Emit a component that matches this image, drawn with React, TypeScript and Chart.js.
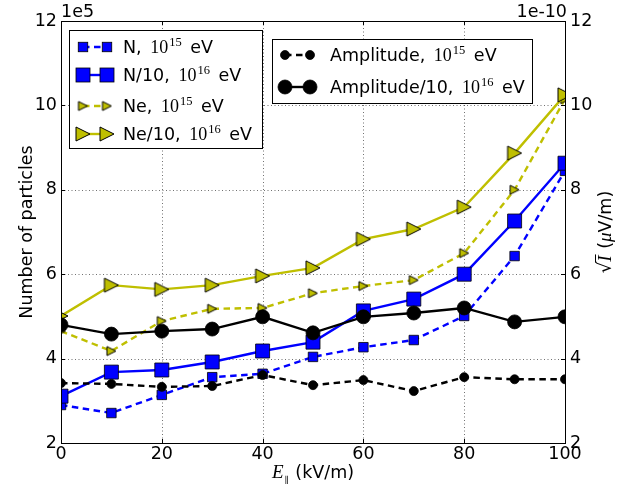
import React, { useEffect, useRef } from "react";
import { Chart, registerables } from "chart.js";

Chart.register(...registerables);

// ---- data ----
const eField = [0, 10, 20, 30, 40, 50, 60, 70, 80, 90, 100];
// Number of particles, in units of 1e5
const nLow = [2.9, 2.71, 3.14, 3.56, 3.64, 4.04, 4.27, 4.44, 5.01, 6.43, 8.45];
const nHigh = [3.11, 3.68, 3.73, 3.92, 4.18, 4.39, 5.13, 5.41, 6.0, 7.26, 8.63];
const neLow = [4.65, 4.18, 4.89, 5.18, 5.2, 5.55, 5.72, 5.86, 6.5, 8.0, 10.15];
const neHigh = [5.01, 5.74, 5.64, 5.74, 5.96, 6.15, 6.83, 7.07, 7.59, 8.87, 10.25];
// sqrt(I), in units of 1e-10
const ampLow = [3.42, 3.4, 3.33, 3.35, 3.61, 3.37, 3.49, 3.23, 3.56, 3.51, 3.51];
const ampHigh = [4.8, 4.58, 4.65, 4.7, 4.99, 4.61, 4.99, 5.08, 5.2, 4.87, 4.99];

const xTicks = [0, 20, 40, 60, 80, 100];
const yTicks = [2, 4, 6, 8, 10, 12];
const seriesNames = ["N, ", "N/10, ", "Ne, ", "Ne/10, ", "Amplitude, ", "Amplitude/10, "];
const seriesExponents = ["15", "16", "15", "16", "15", "16"];
const leftOffsetText = "1e5";
const rightOffsetText = "1e-10";
const xTitle = " (kV/m)";
const leftTitle = "Number of particles";

// ---- styles ----
const SANS = '"DejaVu Sans", sans-serif';
const SERIF = '"Liberation Serif", "DejaVu Serif", serif';
const TICK_PX = 17.5;
const LEG_PX = 17.5;
const BLUE = "#0000ff";
const YEL = "#bfbf00";
const BLACK = "#000000";
const DASH = [6.5, 4.5];

function makeTriangle(size: number, fill: string): HTMLCanvasElement {
  const pad = 2;
  const c = document.createElement("canvas");
  c.width = size + pad * 2;
  c.height = size + pad * 2;
  const g = c.getContext("2d")!;
  const h = size / 2;
  const cx = c.width / 2;
  const cy = c.height / 2;
  g.beginPath();
  g.moveTo(cx + h, cy);
  g.lineTo(cx - h, cy - h);
  g.lineTo(cx - h, cy + h);
  g.closePath();
  g.fillStyle = fill;
  g.fill();
  g.lineWidth = 1;
  g.strokeStyle = "#000";
  g.lineJoin = "miter";
  g.stroke();
  return c;
}

type Part = { t: string; font: string; dy?: number; gap?: number; overline?: boolean };

function partsWidth(ctx: CanvasRenderingContext2D, parts: Part[]) {
  let w = 0;
  for (const p of parts) {
    ctx.font = p.font;
    w += (p.gap || 0) + ctx.measureText(p.t).width;
  }
  return w;
}

function drawParts(ctx: CanvasRenderingContext2D, parts: Part[], x: number, y: number) {
  let cx = x;
  for (const p of parts) {
    cx += p.gap || 0;
    ctx.font = p.font;
    ctx.fillText(p.t, cx, y + (p.dy || 0));
    const w = ctx.measureText(p.t).width;
    if (p.overline) {
      ctx.save();
      ctx.lineWidth = 1;
      ctx.strokeStyle = "#000";
      ctx.beginPath();
      ctx.moveTo(cx - 1, y - 15.5);
      ctx.lineTo(cx + w + 1, y - 15.5);
      ctx.stroke();
      ctx.restore();
    }
    cx += w;
  }
  return cx;
}

function drawMarker(ctx: CanvasRenderingContext2D, ds: any, x: number, y: number) {
  const st = ds.pointStyle;
  ctx.save();
  ctx.setLineDash([]);
  if (st instanceof HTMLCanvasElement) {
    ctx.drawImage(st, x - st.width / 2, y - st.height / 2);
  } else if (st === "rect") {
    const s = ds.pointRadius * Math.SQRT1_2;
    ctx.fillStyle = ds.pointBackgroundColor;
    ctx.strokeStyle = ds.pointBorderColor;
    ctx.lineWidth = ds.pointBorderWidth;
    ctx.fillRect(x - s, y - s, 2 * s, 2 * s);
    ctx.strokeRect(x - s, y - s, 2 * s, 2 * s);
  } else {
    ctx.fillStyle = ds.pointBackgroundColor;
    ctx.strokeStyle = ds.pointBorderColor;
    ctx.lineWidth = ds.pointBorderWidth;
    ctx.beginPath();
    ctx.arc(x, y, ds.pointRadius, 0, Math.PI * 2);
    ctx.fill();
    ctx.stroke();
  }
  ctx.restore();
}

function drawLegend(
  ctx: CanvasRenderingContext2D,
  chart: any,
  idx: number[],
  bx: number,
  by: number,
  bw: number,
  bh: number,
  rowYs: number[],
  m1: number,
  m2: number,
  tx: number
) {
  ctx.save();
  ctx.fillStyle = "#fff";
  ctx.fillRect(bx, by, bw, bh);
  ctx.strokeStyle = "#000";
  ctx.lineWidth = 1;
  ctx.strokeRect(bx + 0.5, by + 0.5, bw, bh);
  idx.forEach((di, i) => {
    const ds = chart.data.datasets[di];
    const y = rowYs[i];
    ctx.save();
    ctx.strokeStyle = ds.borderColor;
    ctx.lineWidth = ds.borderWidth;
    ctx.setLineDash(ds.borderDash || []);
    ctx.beginPath();
    ctx.moveTo(m1, y);
    ctx.lineTo(m2, y);
    ctx.stroke();
    ctx.restore();
    drawMarker(ctx, ds, m1, y);
    drawMarker(ctx, ds, m2, y);
    ctx.fillStyle = "#000";
    ctx.textAlign = "left";
    ctx.textBaseline = "alphabetic";
    const parts: Part[] = [
      { t: seriesNames[di], font: `${LEG_PX}px ${SANS}` },
      { t: "10", font: `18px ${SERIF}`, gap: 3 },
      { t: seriesExponents[di], font: `12.5px ${SERIF}`, dy: -7, gap: 1 },
      { t: " eV", font: `${LEG_PX}px ${SANS}`, gap: 3 },
    ];
    drawParts(ctx, parts, tx, y + 6);
  });
  ctx.restore();
}

const decorPlugin = {
  id: "decor",
  beforeDatasetsDraw(chart: any) {
    const { ctx, chartArea: a, scales } = chart;
    ctx.save();
    ctx.strokeStyle = "rgba(0,0,0,0.7)";
    ctx.lineWidth = 0.8;
    ctx.setLineDash([1, 2.5]);
    xTicks.forEach((v, i) => {
      if (i === 0 || i === xTicks.length - 1) return;
      const x = Math.round(scales.x.getPixelForValue(v)) + 0.5;
      ctx.beginPath();
      ctx.moveTo(x, a.top);
      ctx.lineTo(x, a.bottom);
      ctx.stroke();
    });
    yTicks.forEach((v, i) => {
      if (i === 0 || i === yTicks.length - 1) return;
      const y = Math.round(scales.y.getPixelForValue(v)) + 0.5;
      ctx.beginPath();
      ctx.moveTo(a.left, y);
      ctx.lineTo(a.right, y);
      ctx.stroke();
    });
    ctx.restore();
  },
  afterDatasetsDraw(chart: any) {
    const { ctx, chartArea: a, scales } = chart;
    ctx.save();
    // frame
    ctx.strokeStyle = "#000";
    ctx.lineWidth = 1;
    ctx.setLineDash([]);
    ctx.strokeRect(Math.round(a.left) + 0.5, Math.round(a.top) + 0.5, Math.round(a.right - a.left), Math.round(a.bottom - a.top));
    // inward tick marks
    const tl = 4;
    ctx.beginPath();
    xTicks.forEach((v) => {
      const x = Math.round(scales.x.getPixelForValue(v)) + 0.5;
      ctx.moveTo(x, a.bottom);
      ctx.lineTo(x, a.bottom - tl);
      ctx.moveTo(x, a.top);
      ctx.lineTo(x, a.top + tl);
    });
    yTicks.forEach((v) => {
      const y = Math.round(scales.y.getPixelForValue(v)) + 0.5;
      ctx.moveTo(a.left, y);
      ctx.lineTo(a.left + tl, y);
      ctx.moveTo(a.right, y);
      ctx.lineTo(a.right - tl, y);
    });
    ctx.stroke();

    // legends
    drawLegend(ctx, chart, [0, 1, 2, 3], a.left + 8, a.top + 9, 193, 118, [a.top + 26, a.top + 54, a.top + 85, a.top + 113], a.left + 22, a.left + 46, a.left + 62);
    drawLegend(ctx, chart, [4, 5], a.left + 211, a.top + 18, 260, 64, [a.top + 34, a.top + 66], a.left + 224, a.left + 249, a.left + 269);

    // offset texts
    ctx.fillStyle = "#000";
    ctx.font = `${TICK_PX}px ${SANS}`;
    ctx.textBaseline = "alphabetic";
    ctx.textAlign = "left";
    ctx.fillText(leftOffsetText, a.left, a.top - 4);
    ctx.textAlign = "right";
    ctx.fillText(rightOffsetText, a.right + 2, a.top - 4);

    // x title
    ctx.textAlign = "left";
    const xParts: Part[] = [
      { t: "E", font: `italic 19px ${SERIF}` },
      { t: "\u2225", font: `9px ${SERIF}`, dy: 5, gap: 1 },
      { t: xTitle, font: `${TICK_PX}px ${SANS}`, gap: 1 },
    ];
    const xw = partsWidth(ctx, xParts);
    drawParts(ctx, xParts, (a.left + a.right) / 2 - xw / 2, 478);

    // left title
    const cy = (a.top + a.bottom) / 2;
    ctx.save();
    ctx.translate(27, cy);
    ctx.rotate(-Math.PI / 2);
    ctx.textAlign = "center";
    ctx.textBaseline = "middle";
    ctx.font = `${TICK_PX}px ${SANS}`;
    ctx.fillText(leftTitle, 0, 0);
    ctx.restore();

    // right title: sqrt(I) (mu V/m)
    const rParts: Part[] = [
      { t: "\u221A", font: `18px ${SANS}` },
      { t: "I", font: `italic 19px ${SERIF}`, overline: true, gap: 0 },
      { t: " (", font: `${TICK_PX}px ${SANS}`, gap: 1 },
      { t: "\u03BC", font: `italic 19px ${SERIF}` },
      { t: "V/m)", font: `${TICK_PX}px ${SANS}` },
    ];
    ctx.save();
    ctx.translate(605, cy);
    ctx.rotate(-Math.PI / 2);
    ctx.textAlign = "left";
    ctx.textBaseline = "alphabetic";
    const rw = partsWidth(ctx, rParts);
    drawParts(ctx, rParts, -rw / 2, 6);
    ctx.restore();

    ctx.restore();
  },
};

export default function App() {
  const ref = useRef<HTMLCanvasElement | null>(null);

  useEffect(() => {
    if (!ref.current) return;
    const smallTri = makeTriangle(9, YEL);
    const bigTri = makeTriangle(14, YEL);
    const tickFont = { family: SANS, size: TICK_PX };
    const mk = (data: number[], color: string, dashed: boolean, style: any, radius: number, axis: string, order: number) => ({
      data: data.map((v, i) => ({ x: eField[i], y: v })),
      borderColor: color,
      backgroundColor: color,
      borderWidth: 2.4,
      borderDash: dashed ? DASH : [],
      pointStyle: style,
      pointRadius: radius,
      pointHoverRadius: radius,
      pointBackgroundColor: color,
      pointBorderColor: "#000",
      pointBorderWidth: 0.8,
      tension: 0,
      fill: false,
      clip: 0,
      yAxisID: axis,
      order,
    });
    const chart = new Chart(ref.current, {
      type: "line",
      data: {
        datasets: [
          mk(nLow, BLUE, true, "rect", 6.7, "y", 5),
          mk(nHigh, BLUE, false, "rect", 9.9, "y", 4),
          mk(neLow, YEL, true, smallTri, 5, "y", 3),
          mk(neHigh, YEL, false, bigTri, 7.5, "y", 2),
          mk(ampLow, BLACK, true, "circle", 4.5, "y1", 1),
          mk(ampHigh, BLACK, false, "circle", 7, "y1", 0),
        ] as any,
      },
      options: {
        responsive: false,
        animation: false,
        devicePixelRatio: 1,
        events: [],
        layout: { padding: { top: 21, left: 0, right: 0, bottom: 0 } },
        plugins: { legend: { display: false }, tooltip: { enabled: false }, title: { display: false } },
        scales: {
          x: {
            type: "linear",
            min: 0,
            max: 100,
            ticks: { stepSize: 20, padding: 1, font: tickFont, color: "#000", maxRotation: 0, autoSkip: false },
            grid: { display: false, drawTicks: false },
            border: { display: false },
            afterFit: (s: any) => {
              s.height = 42;
            },
          },
          y: {
            type: "linear",
            position: "left",
            min: 2,
            max: 12,
            ticks: { stepSize: 2, padding: 4, font: tickFont, color: "#000", autoSkip: false },
            grid: { display: false, drawTicks: false },
            border: { display: false },
            afterFit: (s: any) => {
              s.width = 61;
            },
          },
          y1: {
            type: "linear",
            position: "right",
            min: 2,
            max: 12,
            ticks: { stepSize: 2, padding: 5, font: tickFont, color: "#000", autoSkip: false },
            grid: { display: false, drawTicks: false },
            border: { display: false },
            afterFit: (s: any) => {
              s.width = 63;
            },
          },
        },
      } as any,
      plugins: [decorPlugin],
    });
    return () => chart.destroy();
  }, []);

  return (
    <div style={{ position: "absolute", left: 0, top: 0, width: 628, height: 485, background: "#fff" }}>
      <canvas ref={ref} width={628} height={485} style={{ display: "block", width: 628, height: 485 }} />
    </div>
  );
}
